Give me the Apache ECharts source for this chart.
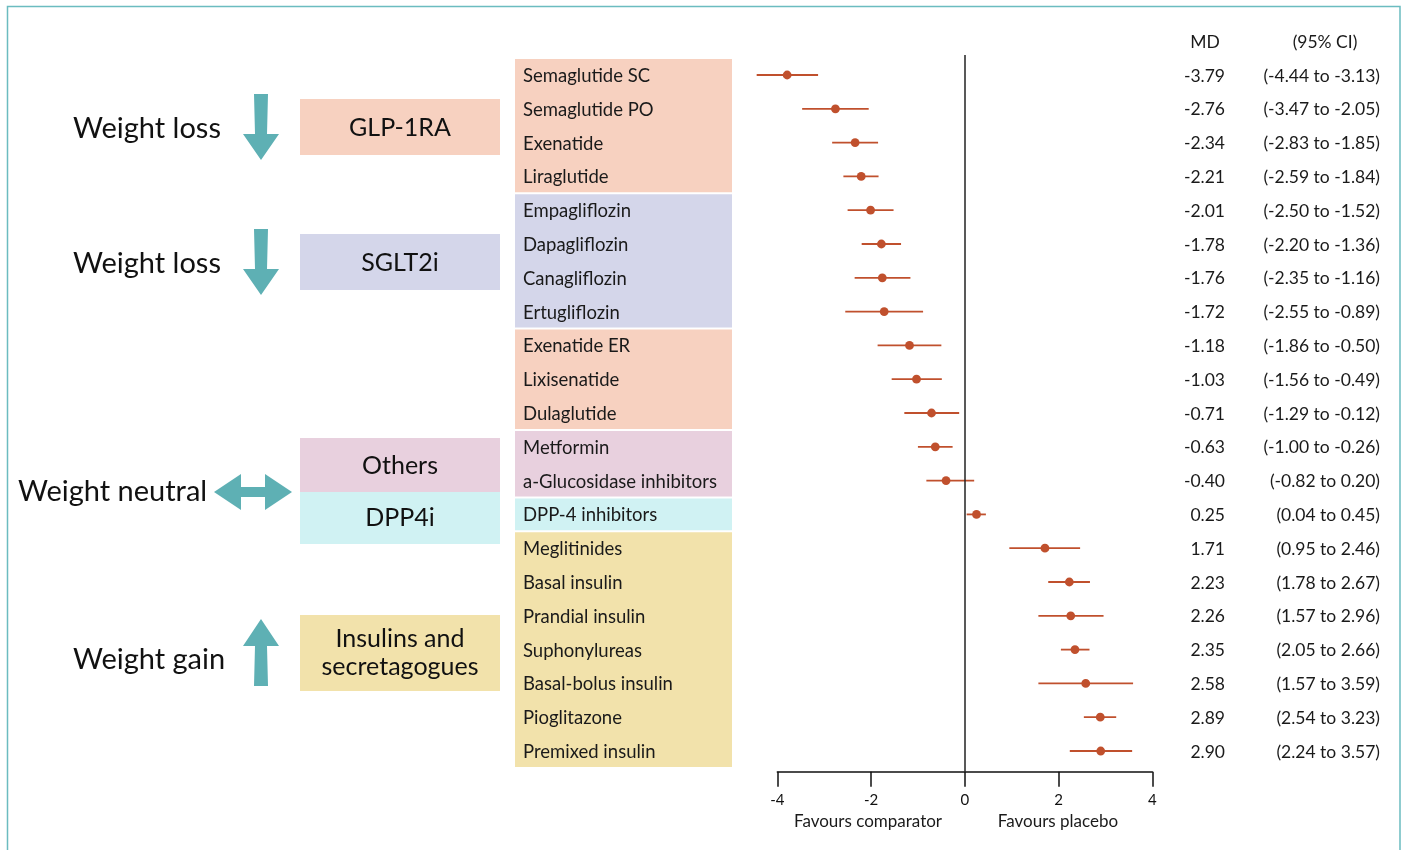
<!DOCTYPE html>
<html>
<head>
<meta charset="utf-8">
<script src="https://cdn.jsdelivr.net/npm/echarts@6/dist/echarts.min.js"></script>
<style>
html,body{margin:0;padding:0;background:#fff;}
#chart{width:1405px;height:850px;}
</style>
</head>
<body>
<div id="chart"></div>
<script>
// ---------------- data ----------------
const drugs = ['Semaglutide SC','Semaglutide PO','Exenatide','Liraglutide',
  'Empagliflozin','Dapagliflozin','Canagliflozin','Ertugliflozin',
  'Exenatide ER','Lixisenatide','Dulaglutide',
  'Metformin','a-Glucosidase inhibitors',
  'DPP-4 inhibitors',
  'Meglitinides','Basal insulin','Prandial insulin','Suphonylureas','Basal-bolus insulin','Pioglitazone','Premixed insulin'];
const drugClass = ['GLP-1RA','GLP-1RA','GLP-1RA','GLP-1RA',
  'SGLT2i','SGLT2i','SGLT2i','SGLT2i',
  'GLP-1RA','GLP-1RA','GLP-1RA',
  'Others','Others',
  'DPP4i',
  'Insulins','Insulins','Insulins','Insulins','Insulins','Insulins','Insulins'];
const md = [-3.79,-2.76,-2.34,-2.21,-2.01,-1.78,-1.76,-1.72,-1.18,-1.03,-0.71,-0.63,-0.40,0.25,1.71,2.23,2.26,2.35,2.58,2.89,2.90];
const ciLow = [-4.44,-3.47,-2.83,-2.59,-2.50,-2.20,-2.35,-2.55,-1.86,-1.56,-1.29,-1.00,-0.82,0.04,0.95,1.78,1.57,2.05,1.57,2.54,2.24];
const ciHigh = [-3.13,-2.05,-1.85,-1.84,-1.52,-1.36,-1.16,-0.89,-0.50,-0.49,-0.12,-0.26,0.20,0.45,2.46,2.67,2.96,2.66,3.59,3.23,3.57];
const xTicks = [-4,-2,0,2,4];
const headers = ['MD','(95% CI)'];
const favourLabels = ['Favours comparator','Favours placebo'];

// ---------------- styles ----------------
const FONT = 'Lato, "Open Sans", sans-serif';
const classColor = {'GLP-1RA':'#f7d1c0','SGLT2i':'#d4d6ea','Others':'#e8d0de','DPP4i':'#d0f2f3','Insulins':'#f2e2ab'};
const markColor = '#c0502d';
const teal = '#5eb0b4';

// contiguous class runs for the label column
const runs = [];
drugClass.forEach((c,i)=>{
  const last = runs[runs.length-1];
  if (last && last.cls === c) last.end = i; else runs.push({cls:c,start:i,end:i});
});

const Y_MIN = -0.592, Y_MAX = 20.612;
const gridTop = 55, gridBottom = 78.3;

const chart = echarts.init(document.getElementById('chart'));

function yAxisDef(idx){
  return {gridIndex: idx, type:'value', inverse:true, min:Y_MIN, max:Y_MAX, show:false};
}

const option = {
  backgroundColor:'#fff',
  animation:false,
  grid:[
    {left:777.3, right:252.7, top:gridTop, bottom:gridBottom},
    {left:515, width:217, top:gridTop, bottom:gridBottom},
    {left:1160, width:240, top:gridTop, bottom:gridBottom}
  ],
  xAxis:[
    {gridIndex:0, type:'value', position:'bottom', min:-4, max:4, interval:2,
     axisLine:{show:true, onZero:false, lineStyle:{color:'#111', width:1.5}},
     axisTick:{show:true, length:15, inside:false, lineStyle:{color:'#111', width:1.5}},
     axisLabel:{margin:21, color:'#111', fontSize:15, fontFamily:FONT,
       formatter:v=> xTicks.includes(v) ? String(v) : ''},
     splitLine:{show:false}},
    {gridIndex:1, type:'value', min:0, max:217, show:false},
    {gridIndex:2, type:'value', min:0, max:240, show:false}
  ],
  yAxis:[yAxisDef(0), yAxisDef(1), yAxisDef(2)],
  series:[
    // class background boxes in label column
    {type:'custom', xAxisIndex:1, yAxisIndex:1, clip:false,
     data: runs.map(r=>[r.start, r.end]),
     renderItem:(params, api)=>{
       const r = runs[params.dataIndex];
       const p0 = api.coord([0, api.value(0)-0.5]);
       const p1 = api.coord([217, api.value(1)+0.5]);
       return {type:'rect', shape:{x:p0[0], y:p0[1]+1, width:p1[0]-p0[0], height:p1[1]-p0[1]-2},
               style:{fill:classColor[r.cls]}};
     }},
    // row labels
    {type:'custom', xAxisIndex:1, yAxisIndex:1, clip:false,
     data: drugs.map((d,i)=>[8,i]),
     renderItem:(params, api)=>{
       const p = api.coord([api.value(0), api.value(1)]);
       return {type:'text', style:{text:drugs[params.dataIndex], x:p[0], y:p[1]+1,
         fill:'#1a1a1a', font:'18.5px '+FONT, align:'left', verticalAlign:'middle'}};
     }},
    // CI lines and point estimates
    {type:'custom', xAxisIndex:0, yAxisIndex:0, clip:false,
     data: md.map((m,i)=>[m, ciLow[i], ciHigh[i], i]),
     renderItem:(params, api)=>{
       const y = api.value(3);
       const pm = api.coord([api.value(0), y]);
       const pl = api.coord([api.value(1), y]);
       const ph = api.coord([api.value(2), y]);
       return {type:'group', children:[
         {type:'line', shape:{x1:pl[0], y1:pl[1], x2:ph[0], y2:ph[1]}, style:{stroke:markColor, lineWidth:1.8}},
         {type:'circle', shape:{cx:pm[0], cy:pm[1], r:4.4}, style:{fill:markColor}}
       ]};
     },
     markLine:{silent:true, symbol:'none', label:{show:false},
       lineStyle:{color:'#222', width:1.5, type:'solid'},
       data:[{xAxis:0}]}
    },
    // MD / CI table
    {type:'custom', xAxisIndex:2, yAxisIndex:2, clip:false,
     data: md.map((m,i)=>[i]),
     renderItem:(params, api)=>{
       const i = api.value(0);
       const pa = api.coord([65, i]);
       const pb = api.coord([220, i]);
       const f = '17.5px '+FONT;
       const children = [
         {type:'text', style:{text:md[i].toFixed(2), x:pa[0], y:pa[1]+1, fill:'#1a1a1a', font:f, align:'right', verticalAlign:'middle'}},
         {type:'text', style:{text:'('+ciLow[i].toFixed(2)+' to '+ciHigh[i].toFixed(2)+')', x:pb[0], y:pb[1]+1, fill:'#1a1a1a', font:f, align:'right', verticalAlign:'middle'}}
       ];
       if (i === 0) {
         const ha = api.coord([45, -1]);
         const hb = api.coord([165, -1]);
         children.push({type:'text', style:{text:headers[0], x:ha[0], y:ha[1]+1, fill:'#1a1a1a', font:f, align:'center', verticalAlign:'middle'}});
         children.push({type:'text', style:{text:headers[1], x:hb[0], y:hb[1]+1, fill:'#1a1a1a', font:f, align:'center', verticalAlign:'middle'}});
       }
       return {type:'group', children};
     }}
  ],
  graphic:[
    // outer frame
    {type:'rect', shape:{x:7.5, y:6.5, width:1392.5, height:860}, style:{fill:'none', stroke:'#6bbcc0', lineWidth:1.5}, silent:true},
    // favours labels
    {type:'text', style:{text:favourLabels[0], x:868, y:822, font:'17px '+FONT, fill:'#1a1a1a', align:'center', verticalAlign:'middle'}},
    {type:'text', style:{text:favourLabels[1], x:1058, y:822, font:'17px '+FONT, fill:'#1a1a1a', align:'center', verticalAlign:'middle'}},
    // class boxes
    {type:'rect', shape:{x:300, y:99, width:200, height:56}, style:{fill:classColor['GLP-1RA']}},
    {type:'rect', shape:{x:300, y:234, width:200, height:56}, style:{fill:classColor['SGLT2i']}},
    {type:'rect', shape:{x:300, y:438, width:200, height:54}, style:{fill:classColor['Others']}},
    {type:'rect', shape:{x:300, y:492, width:200, height:52}, style:{fill:classColor['DPP4i']}},
    {type:'rect', shape:{x:300, y:615, width:200, height:76}, style:{fill:classColor['Insulins']}},
    {type:'text', style:{text:'GLP-1RA', x:400, y:128, font:'25px '+FONT, fill:'#111', align:'center', verticalAlign:'middle'}},
    {type:'text', style:{text:'SGLT2i', x:400, y:263, font:'25px '+FONT, fill:'#111', align:'center', verticalAlign:'middle'}},
    {type:'text', style:{text:'Others', x:400, y:466, font:'25px '+FONT, fill:'#111', align:'center', verticalAlign:'middle'}},
    {type:'text', style:{text:'DPP4i', x:400, y:518, font:'25px '+FONT, fill:'#111', align:'center', verticalAlign:'middle'}},
    {type:'text', style:{text:'Insulins and\nsecretagogues', x:400, y:653, font:'25px '+FONT, lineHeight:28, fill:'#111', align:'center', verticalAlign:'middle'}},
    // effect labels
    {type:'text', style:{text:'Weight loss', x:73, y:129, font:'29px '+FONT, fill:'#111', align:'left', verticalAlign:'middle'}},
    {type:'text', style:{text:'Weight loss', x:73, y:264, font:'29px '+FONT, fill:'#111', align:'left', verticalAlign:'middle'}},
    {type:'text', style:{text:'Weight neutral', x:18, y:492, font:'29px '+FONT, fill:'#111', align:'left', verticalAlign:'middle'}},
    {type:'text', style:{text:'Weight gain', x:73, y:660, font:'29px '+FONT, fill:'#111', align:'left', verticalAlign:'middle'}},
    // arrows
    {type:'polygon', shape:{points:[[254,94],[268,94],[267,134],[279,134],[261,160],[243,134],[255,134]]}, style:{fill:teal}},
    {type:'polygon', shape:{points:[[254,229],[268,229],[267,269],[279,269],[261,295],[243,269],[255,269]]}, style:{fill:teal}},
    {type:'polygon', shape:{points:[[261,619],[279,646],[267,646],[268,686],[254,686],[255,646],[243,646]]}, style:{fill:teal}},
    {type:'polygon', shape:{points:[[214,492],[241,474],[241,487],[265,487],[265,474],[292,492],[265,510],[265,497],[241,497],[241,510]]}, style:{fill:teal}}
  ]
};
chart.setOption(option);
</script>
</body>
</html>
